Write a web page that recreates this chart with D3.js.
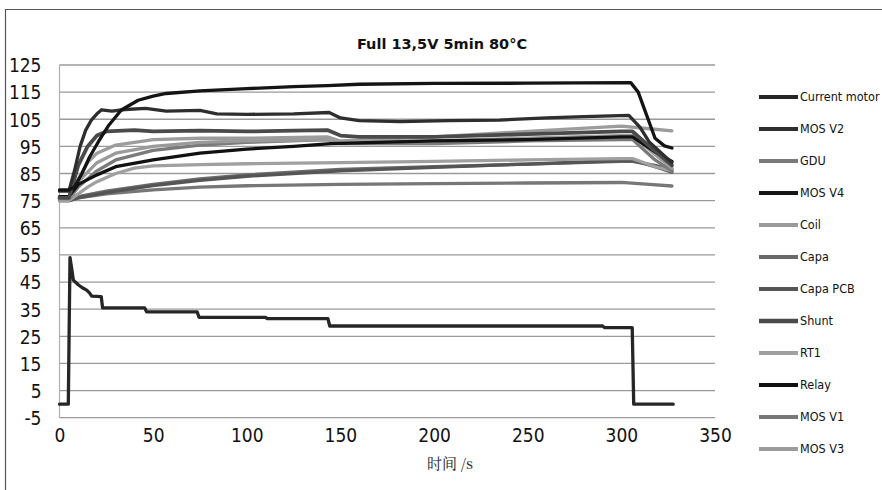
<!DOCTYPE html>
<html>
<head>
<meta charset="utf-8">
<script src="https://cdn.jsdelivr.net/npm/d3@7"></script>
<style>
  html, body { margin: 0; padding: 0; background: #fff; }
  svg { display: block; }
</style>
</head>
<body>
<div id="chart"></div>
<script>
// ---------- data (time in s, value) ----------
const chartTitle = "Full 13,5V 5min 80°C";
const xAxisTitle = "时间 /s";
const yTicks = [-5, 5, 15, 25, 35, 45, 55, 65, 75, 85, 95, 105, 115, 125];
const xTicks = [0, 50, 100, 150, 200, 250, 300, 350];

const currentMotor = [[0,0],[4.7,0],[5.6,54],[6.5,50],[7.4,45.7],[10,44],[12,43],[14.5,42],[16,41],[17.2,39.8],[22.3,39.6],[23,35.5],[45.5,35.5],[46.5,34],[73.5,34],[74.5,32],[110,32],[111,31.5],[143.3,31.5],[144.3,28.8],[290,28.8],[291,28.2],[305.8,28.2],[306.6,0],[327.7,0]];
const mosV2 = [[0,78.5],[5,78.5],[8,86],[11,95],[14,101],[17,104.7],[20,107],[22.5,108.5],[28,108],[35,108.6],[46,109],[57,108],[75,108.3],[84,107],[100,106.8],[125,107],[144,107.5],[150,105.5],[160,104.5],[182,104.1],[208,104.5],[235,104.7],[260,105.5],[280,106],[304,106.4],[310,102],[315,96.5],[327,89]];
const gdu = [[0,75.5],[5,75.5],[10,80],[20,86],[30,90],[50,93.5],[75,95.5],[100,96.5],[143,97.5],[150,96],[200,96],[250,97],[300,97.5],[306,97.5],[318,90],[327,86]];
const mosV4 = [[0,79],[5,79],[8,80],[12,85],[16,91],[21,97],[26,102.5],[33,108.4],[42,112],[50,113.5],[57,114.5],[75,115.5],[100,116.3],[125,117],[143,117.4],[160,117.9],[200,118.2],[250,118.3],[305,118.5],[309,115],[318,98],[323,95.2],[327,94.4]];
const coil = [[0,75.5],[5,75.5],[10,82],[20,89],[30,92.5],[50,95],[75,96.5],[100,97],[143,97.5],[150,96.5],[200,97],[250,98],[300,99],[306,99],[318,92],[327,87]];
const capa = [[0,75.5],[5,75.5],[10,76.5],[25,78.5],[50,81],[75,83],[100,84.5],[150,86.5],[200,87.5],[250,88.5],[300,89.5],[306,89.5],[318,88],[327,86.5]];
const capaPCB = [[0,75],[5,75],[10,76],[25,78],[50,80.5],[75,82.5],[100,84],[150,86],[200,87.3],[250,88.5],[300,89.8],[306,89.8],[318,87.5],[327,85.5]];
const shunt = [[0,76],[5,76],[10,88],[15,95],[20,99],[25,100.5],[40,101],[50,100.5],[75,100.8],[100,100.5],[125,100.8],[143,101],[150,99],[160,98.5],[200,98.5],[250,99.5],[300,100.5],[306,100.5],[315,95],[327,88]];
const rt1 = [[0,75],[5,75],[10,77.5],[15,80],[20,82],[30,85],[40,87],[50,87.8],[75,88.3],[100,88.6],[150,89],[200,89.5],[250,90],[300,90.5],[306,90.5],[318,87.5],[327,86]];
const relay = [[0,76.5],[5,76.5],[10,81],[20,84.5],[30,87.5],[50,90],[75,92.5],[100,94],[125,95],[145,96],[200,97],[250,97.5],[300,98.5],[306,98.5],[318,93],[327,89.5]];
const mosV1 = [[0,75],[5,75],[10,76],[25,77.5],[50,79],[75,80],[100,80.5],[150,81],[200,81.3],[250,81.5],[300,81.7],[315,81],[327,80.4]];
const mosV3 = [[0,76],[5,76],[10,83],[15,89],[20,92.5],[30,95.5],[50,97.5],[75,98],[100,98],[143,98.5],[150,97],[200,98.5],[250,100.5],[300,102.5],[315,101.5],[327,100.7]];

const seriesNames = ["Current motor","MOS V2","GDU","MOS V4","Coil","Capa","Capa PCB","Shunt","RT1","Relay","MOS V1","MOS V3"];
const seriesData = [currentMotor, mosV2, gdu, mosV4, coil, capa, capaPCB, shunt, rt1, relay, mosV1, mosV3];
const seriesColors = ["#262626","#2e2e2e","#7a7a7a","#141414","#9a9a9a","#6a6a6a","#555555","#4a4a4a","#a0a0a0","#111111","#777777","#9c9c9c"];

// ---------- layout ----------
const W = 882, H = 490;
const plot = { left: 59.5, right: 715, top: 65, bottom: 417.7 };

const svg = d3.select("#chart").append("svg").attr("width", W).attr("height", H);

// outer frame (left and top edges)
svg.append("path")
  .attr("d", `M5.5,${H} L5.5,9.5 L${W},9.5`)
  .attr("fill", "none").attr("stroke", "#555").attr("stroke-width", 1.2);

const x = d3.scaleLinear().domain([0, 350]).range([plot.left, plot.right]);
const y = d3.scaleLinear().domain([-5, 125]).range([plot.bottom, plot.top]);

// gridlines
svg.append("g").selectAll("line").data(yTicks).join("line")
  .attr("x1", plot.left).attr("x2", plot.right)
  .attr("y1", d => y(d)).attr("y2", d => y(d))
  .attr("stroke", "#9a9a9a").attr("stroke-width", 1.3);

// y axis line
svg.append("line").attr("x1", plot.left).attr("x2", plot.left)
  .attr("y1", plot.top).attr("y2", plot.bottom)
  .attr("stroke", "#b0b0b0").attr("stroke-width", 1.2);

const tickFont = "'Liberation Sans Narrow','DejaVu Sans Condensed','Open Sans',sans-serif";

// y axis
const yAxis = d3.axisLeft(y).tickValues(yTicks).tickSize(0).tickPadding(0).tickFormat(d => String(d));
const gy = svg.append("g").attr("transform", `translate(${plot.left - 18},0)`).call(yAxis);
gy.select(".domain").remove();
gy.selectAll("text").attr("font-family", tickFont).attr("font-size", 19).attr("fill", "#111")
  .attr("dy", "0.36em");

// x axis
const xAxis = d3.axisBottom(x).tickValues(xTicks).tickSize(0).tickPadding(0).tickFormat(d => String(d));
const gx = svg.append("g").attr("transform", `translate(0,${plot.bottom + 10})`).call(xAxis);
gx.select(".domain").remove();
gx.selectAll("text").attr("font-family", tickFont).attr("font-size", 19).attr("fill", "#111")
  .attr("dy", "0.75em");

// title
svg.append("text").attr("x", 442).attr("y", 49).attr("text-anchor", "middle")
  .attr("font-family", "'DejaVu Sans',sans-serif").attr("font-weight", "bold")
  .attr("font-size", 14.5).attr("fill", "#111").text(chartTitle);

// x axis title
svg.append("text").attr("x", 450).attr("y", 469).attr("text-anchor", "middle")
  .attr("font-family", "'Noto Serif CJK SC','Noto Sans CJK SC',serif")
  .attr("font-size", 15).attr("fill", "#222").text(xAxisTitle);

// lines
const line = d3.line().x(d => x(d[0])).y(d => y(d[1]));
const drawOrder = [10, 5, 6, 8, 2, 4, 11, 9, 7, 1, 3, 0];
svg.append("g").selectAll("path").data(drawOrder).join("path")
  .attr("d", i => line(seriesData[i]))
  .attr("fill", "none")
  .attr("stroke", i => seriesColors[i])
  .attr("stroke-width", i => (i === 7 ? 3.8 : 3.3))
  .attr("stroke-linejoin", "round").attr("stroke-linecap", "round");

// legend
const legend = svg.append("g");
const rows = legend.selectAll("g").data(seriesNames).join("g")
  .attr("transform", (d, i) => `translate(759,${97 + i * 32})`);
rows.append("line").attr("x1", 0).attr("x2", 39).attr("y1", 0).attr("y2", 0)
  .attr("stroke", (d, i) => seriesColors[i]).attr("stroke-width", (d, i) => (i === 7 ? 4.5 : 3.8));
rows.append("text").attr("x", 41).attr("y", 0).attr("dy", "0.35em")
  .attr("font-family", tickFont).attr("font-size", 12.5).attr("fill", "#111")
  .text(d => d);
</script>
</body>
</html>
